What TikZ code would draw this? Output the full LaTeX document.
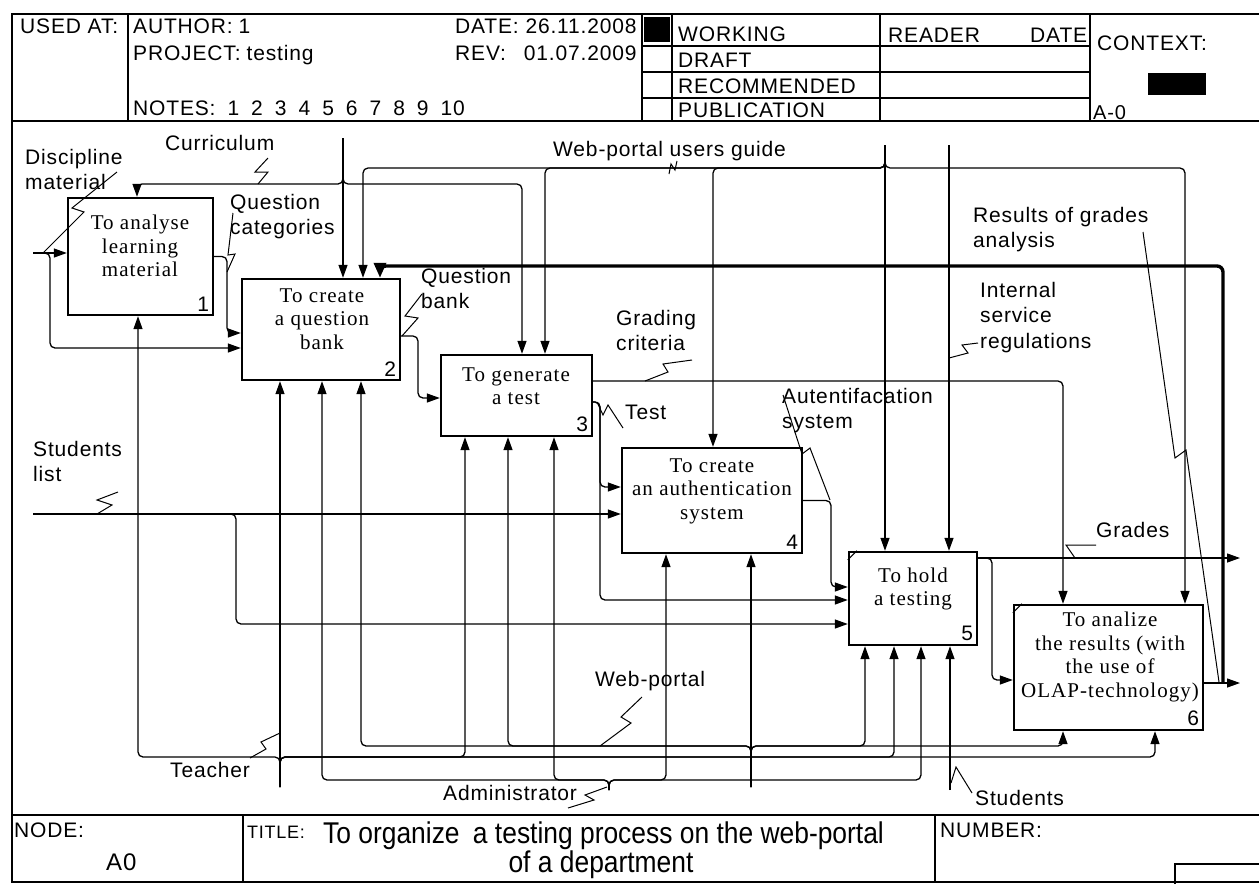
\documentclass[tikz,border=0pt]{standalone}
\usepackage{fontspec}
\setmainfont{Liberation Sans}
\newfontfamily\lblfam[LetterSpace=4]{Liberation Sans}
\newfontfamily\narrowfam[FakeStretch=0.88]{Liberation Sans}
\newfontfamily\boxfam[LetterSpace=5]{Liberation Serif}
\usetikzlibrary{arrows.meta,calc}
\tikzset{
  actbox/.style={draw, line width=2.4pt, inner sep=0pt},
  btxt/.style={font=\boxfam\fontsize{21}{23.5}\selectfont, align=center, inner sep=0pt},
  bnum/.style={font=\lblfam\fontsize{21}{24}\selectfont, anchor=south east, inner sep=0pt},
  conn/.style={line width=1.3pt, rounded corners=5pt},
  arr/.style={-{Triangle[length=13pt,width=9pt]}},
  thk/.style={line width=3.4pt, rounded corners=6pt, -{Triangle[length=15pt,width=12pt]}},
  lbl/.style={font=\lblfam\fontsize{21}{25.5}\selectfont, align=left, inner sep=0pt, anchor=north west},
  lead/.style={line width=1pt},
  frame/.style={line width=1.8pt},
  grid/.style={line width=1.4pt},
  hdr/.style={font=\lblfam\fontsize{21}{24}\selectfont, inner sep=0pt, anchor=base west},
}
\begin{document}
\begin{tikzpicture}[x=1pt,y=-1pt]
\useasboundingbox (0,0) rectangle (1259,884);
\fill[white] (0,0) rectangle (1259,884);

% ---------- frame ----------
\draw[frame] (1259,14) -- (12,14) -- (12,882) -- (1259,882);
\draw[frame] (12,121) -- (1259,121);
\draw[frame] (12,815) -- (1259,815);

% ---------- header ----------
\draw[grid] (128,14) -- (128,121);
\draw[grid] (642,14) -- (642,121);
\draw[grid] (672,14) -- (672,121);
\draw[grid] (880,14) -- (880,121);
\draw[grid] (1090,14) -- (1090,121);
\draw[grid] (642,46) -- (1090,46);
\draw[grid] (642,72) -- (1090,72);
\draw[grid] (642,98) -- (1090,98);
\fill (644,17) rectangle (670,42);
\fill (1148,73) rectangle (1206,95);

\node[hdr] (usedat) at (20,33) {USED AT:};
\node[hdr] (author) at (133,33) {AUTHOR:\hspace{6pt}1};
\node[hdr] (project) at (133,60) {PROJECT:\hspace{6pt}testing};
\node[hdr] (notes) at (133,115) {NOTES:\hspace{12pt}1\hspace{12pt}2\hspace{12pt}3\hspace{12pt}4\hspace{12pt}5\hspace{12pt}6\hspace{12pt}7\hspace{12pt}8\hspace{12pt}9\hspace{12pt}10};
\node[hdr] (date) at (455,33) {DATE: 26.11.2008};
\node[hdr] (rev) at (455,60) {REV:\hspace{18pt}01.07.2009};
\node[hdr] (working) at (678,41) {WORKING};
\node[hdr] (draft) at (678,67) {DRAFT};
\node[hdr] (recom) at (678,93) {RECOMMENDED};
\node[hdr] (public) at (678,117) {PUBLICATION};
\node[hdr] (reader) at (888,42) {READER};
\node[hdr] (rdate) at (1030,42) {DATE};
\node[hdr] (context) at (1097,50) {CONTEXT:};
\node[hdr, font=\lblfam\fontsize{20}{21}\selectfont] (azero) at (1093,119) {A-0};

% ---------- footer ----------
\draw[grid] (243,815) -- (243,882);
\draw[grid] (935,815) -- (935,882);
\draw[grid] (1175,884) -- (1175,864) -- (1259,864);
\node[hdr, font=\lblfam\fontsize{21}{22}\selectfont] (nodelbl) at (14,837) {NODE:};
\node[hdr, font=\lblfam\fontsize{24}{25}\selectfont] (anode) at (106,870) {A0};
\node[hdr, font=\lblfam\fontsize{18}{19}\selectfont] (titlelbl) at (247,838) {TITLE:};
\node[hdr, font=\narrowfam\fontsize{30}{31}\selectfont] (title1) at (323,843) {To organize\hspace{6pt} a testing process on the web-portal};
\node[font=\narrowfam\fontsize{30}{31}\selectfont, inner sep=0pt, anchor=base] (title2) at (601,872) {of a department};
\node[hdr, font=\lblfam\fontsize{21}{22}\selectfont] (numlbl) at (940,837) {NUMBER:};

% ---------- activity boxes ----------
\node[actbox, minimum width=145pt, minimum height=117pt] (b1) at (140.5,256.5) {};
\node[actbox, minimum width=158pt, minimum height=101pt] (b2) at (321,329.5) {};
\node[actbox, minimum width=151pt, minimum height=81pt] (b3) at (516.5,395.5) {};
\node[actbox, minimum width=180pt, minimum height=105pt] (b4) at (712,500.5) {};
\node[actbox, minimum width=128pt, minimum height=93pt] (b5) at (913,598.5) {};
\node[actbox, minimum width=189pt, minimum height=125pt] (b6) at (1108.5,667.5) {};
\draw[line width=1.2pt] ([yshift=-9pt]b5.north west) -- ([xshift=9pt]b5.north west);
\draw[line width=1.2pt] ([yshift=-9pt]b6.north west) -- ([xshift=9pt]b6.north west);

\node[btxt] (t1) at (140,246) {To analyse\\learning\\material};
\node[btxt] (t2) at (322,319) {To create\\a question\\bank};
\node[btxt] (t3) at (516,386) {To generate\\a test};
\node[btxt] (t4) at (712,491) {To create\\an authentication\\system};
\node[btxt] (t5) at (913,589) {To hold\\a testing};
\node[btxt] (t6) at (1110,657) {To analize\\the results (with\\the use of\\OLAP-technology)};

\node[bnum] (n1) at ([shift={(-5pt,5pt)}]b1.south east) {1};
\node[bnum] (n2) at ([shift={(-5pt,5pt)}]b2.south east) {2};
\node[bnum] (n3) at ([shift={(-5pt,5pt)}]b3.south east) {3};
\node[bnum] (n4) at ([shift={(-5pt,5pt)}]b4.south east) {4};
\node[bnum] (n5) at ([shift={(-5pt,5pt)}]b5.south east) {5};
\node[bnum] (n6) at ([shift={(-5pt,5pt)}]b6.south east) {6};

% ---------- coordinates ----------
\coordinate (cur) at (343,138);
\coordinate (curL) at (137,184);
\coordinate (curR) at (522,184);
\coordinate (wug) at (885,145);
\coordinate (wug2) at (363,168);
\coordinate (wug3) at (545,168);
\coordinate (wug4) at (713,168);
\coordinate (wug6) at (1185,168);
\coordinate (isr) at (949,145);
\coordinate (gc) at (1063,381);
\coordinate (rga) at (1240,683);
\coordinate (fbk) at (1223,266);
\coordinate (fb2) at (380,266);
\coordinate (gr) at (1240,558);
\coordinate (grJ) at (992,680);
\coordinate (dm) at (33,253);
\coordinate (dmJ) at (50,348);
\coordinate (qc) at (227,333);
\coordinate (qb) at (418,398);
\coordinate (ts) at (600,600);
\coordinate (tsB) at (600,487);
\coordinate (sl) at (33,514);
\coordinate (slJ) at (236,624);
\coordinate (au) at (831,587);
\coordinate (tc) at (280,787);
\coordinate (tc1) at (138,757);
\coordinate (tc3) at (465,757);
\coordinate (tc5) at (894,757);
\coordinate (tc6) at (1155,757);
\coordinate (wp) at (751,787);
\coordinate (wp2) at (361,746);
\coordinate (wp3) at (508,746);
\coordinate (wp5) at (865,746);
\coordinate (wp6) at (1063,746);
\coordinate (ad) at (609,790);
\coordinate (ad2) at (322,780);
\coordinate (ad3) at (554,780);
\coordinate (ad4) at (666,780);
\coordinate (ad5) at (921,780);
\coordinate (st) at (950,790);

% ---------- controls ----------
\draw[conn,arr] (cur) -- (cur |- b2.north);
\draw[conn,arr] (cur) |- (curL) -- (curL |- b1.north);
\draw[conn,arr] (cur) |- (curR) -- (curR |- b3.north);

\draw[conn,arr] (wug) -- (wug |- b5.north);
\draw[conn,arr] (wug) |- (wug2) -- (wug2 |- b2.north);
\draw[conn,arr] (wug) |- (wug3) -- (wug3 |- b3.north);
\draw[conn,arr] (wug) |- (wug4) -- (wug4 |- b4.north);
\draw[conn,arr] (wug) |- (wug6) -- (wug6 |- b6.north);

\draw[conn,arr] (isr) -- (isr |- b5.north);

\draw[conn,arr] (b3.east |- gc) -- (gc) -- (gc |- b6.north);

% ---------- outputs / feedback ----------
\draw[conn,arr] (b6.east |- rga) -- (rga);
\draw[thk] (fbk |- rga) -- (fbk) -- (fb2) -- (fb2 |- b2.north);

\draw[conn,arr] (b5.east |- gr) -- (gr);
\draw[conn,arr] (b5.east |- gr) -| (grJ) -- (grJ -| b6.west);

% ---------- inputs ----------
\draw[conn,arr] (dm) -- (dm -| b1.west);
\draw[conn,arr] (dm) -| (dmJ) -- (dmJ -| b2.west);
\draw[conn,arr] (b1.east) -| (qc) -- (qc -| b2.west);
\draw[conn,arr] ([yshift=-6.5pt]b2.east) -| (qb) -- (qb -| b3.west);
\draw[conn,arr] ([yshift=-6.5pt]b3.east) -| (ts) -- (ts -| b5.west);
\draw[conn,arr] ([yshift=-6.5pt]b3.east) -| (tsB) -- (tsB -| b4.west);
\draw[conn,arr] (sl) -- (sl -| b4.west);
\draw[conn,arr] (sl) -| (slJ) -- (slJ -| b5.west);
\draw[conn,arr] (b4.east) -| (au) -- (au -| b5.west);

% ---------- mechanisms ----------
\draw[conn,arr] (tc) -- (tc |- b2.south);
\draw[conn,arr] (tc) |- (tc1) -- (tc1 |- b1.south);
\draw[conn,arr] (tc) |- (tc3) -- (tc3 |- b3.south);
\draw[conn,arr] (tc) |- (tc5) -- (tc5 |- b5.south);
\draw[conn,arr] (tc) |- (tc6) -- (tc6 |- b6.south);

\draw[conn,arr] (wp) -- (wp |- b4.south);
\draw[conn,arr] (wp) |- (wp2) -- (wp2 |- b2.south);
\draw[conn,arr] (wp) |- (wp3) -- (wp3 |- b3.south);
\draw[conn,arr] (wp) |- (wp5) -- (wp5 |- b5.south);
\draw[conn,arr] (wp) |- (wp6) -- (wp6 |- b6.south);

\draw[conn,arr] (ad) |- (ad2) -- (ad2 |- b2.south);
\draw[conn,arr] (ad) |- (ad3) -- (ad3 |- b3.south);
\draw[conn,arr] (ad) |- (ad4) -- (ad4 |- b4.south);
\draw[conn,arr] (ad) |- (ad5) -- (ad5 |- b5.south);

\draw[conn,arr] (st) -- (st |- b5.south);

% ---------- labels ----------
\node[lbl] (Ldisc) at (25,149) {Discipline\\material};
\node[lbl] (Lcurr) at (165,135) {Curriculum};
\node[lbl] (Lqcat) at (230,194) {Question\\categories};
\node[lbl] (Lqbank) at (421,268) {Question\\bank};
\node[lbl] (Lwug) at (553,141) {Web-portal users guide};
\node[lbl] (Lgrad) at (616,310) {Grading\\criteria};
\node[lbl] (Ltest) at (625,405) {Test};
\node[lbl] (Lauth) at (782,388) {Autentifacation\\system};
\node[lbl] (Lisr) at (980,282) {Internal\\service\\regulations};
\node[lbl] (Lrga) at (973,207) {Results of grades\\analysis};
\node[lbl] (Lstl) at (33,441) {Students\\list};
\node[lbl] (Lgrd) at (1096,522) {Grades};
\node[lbl] (Lwpl) at (595,671) {Web-portal};
\node[lbl] (Ltch) at (170,762) {Teacher};
\node[lbl] (Ladm) at (443,785) {Administrator};
\node[lbl] (Lstu) at (975,790) {Students};

% ---------- label leaders ----------
\draw[lead] (117,172) -- (72,208) -- (84,212) -- (43,253);
\draw[lead] (268,158) -- (255,172) -- (268,172) -- (258,184);
\draw[lead] (233,213) -- (228,255) -- (235,254) -- (227,272);
\draw[lead] (422,294) -- (405,316) -- (418,318) -- (402,336);
\draw[lead] (669,174) -- (671,164) -- (675,170) -- (677,161);
\draw[lead] (692,360) -- (663,364) -- (668,372) -- (645,381);
\draw[lead] (597,402) -- (603,415) -- (608,405) -- (623,428);
\draw[lead] (783,395) -- (802,454) -- (810,448) -- (830,500);
\draw[lead] (978,343) -- (962,345) -- (968,353) -- (949,358);
\draw[lead] (1143,232) -- (1175,458) -- (1186,450) -- (1219,682);
\draw[lead] (118,492) -- (97,500) -- (112,505) -- (97,514);
\draw[lead] (1096,545) -- (1066,545) -- (1075,558);
\draw[lead] (642,697) -- (621,717) -- (631,723) -- (600,746);
\draw[lead] (250,758) -- (266,749) -- (261,742) -- (280,733);
\draw[lead] (568,808) -- (594,800) -- (585,795) -- (607,787);
\draw[lead] (972,793) -- (956,767) -- (951,783);
\end{tikzpicture}
\end{document}
